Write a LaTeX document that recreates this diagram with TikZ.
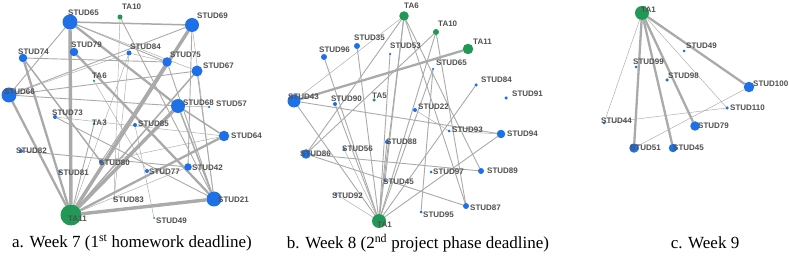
\documentclass[tikz,border=0pt]{standalone}
\usepackage{fontspec}
\setmainfont{Liberation Serif}
\newfontfamily\lblfont{Liberation Sans}
\usetikzlibrary{backgrounds}
\definecolor{nblue}{RGB}{30,112,230}
\definecolor{ngreen}{RGB}{34,152,86}
\definecolor{egray}{RGB}{170,170,170}
\definecolor{lgray}{RGB}{80,80,80}
\tikzset{
  vtx/.style={circle,inner sep=0pt,outer sep=0pt,draw=none},
  lbl/.style={anchor=west,inner sep=0pt,font=\lblfont\bfseries\fontsize{8}{9}\selectfont,text=lgray},
  ea/.style={draw=egray,line width=0.45pt},
  eb/.style={draw=egray,line width=0.9pt},
  ec/.style={draw=egray,line width=1.5pt},
  ed/.style={draw=egray,line width=2.3pt},
  ee/.style={draw=egray,line width=3.4pt},
  captxt/.style={font=\fontsize{17}{20}\selectfont,inner sep=0pt}
}
\newcommand\gv[8]{%
  \node[vtx,fill=#5,minimum size=#4pt] (#1) at (#2,#3) {};
  \node[lbl] (#1-l) at ([shift={(#6,#7)}]#1.center) {#8};}
\begin{document}
\begin{tikzpicture}[x=1pt,y=-1pt]
\useasboundingbox (0,0) rectangle (789,256);
% ---------------- panel a ----------------
\gv{s65}{70}{22}{15}{nblue}{-2}{-9}{STUD65}
\gv{ta10}{120}{17}{5}{ngreen}{2}{-10}{TA10}
\gv{s69}{192}{25}{14}{nblue}{5}{-9}{STUD69}
\gv{s79}{74}{52}{8.5}{nblue}{-3}{-7}{STUD79}
\gv{s84}{129}{53}{5}{nblue}{1}{-6}{STUD84}
\gv{s74}{23}{58}{8.5}{nblue}{-5}{-6}{STUD74}
\gv{s75}{167}{62}{9.5}{nblue}{3}{-7}{STUD75}
\gv{s67}{197}{71}{11}{nblue}{6}{-5}{STUD67}
\gv{ta6}{94}{81}{2.5}{ngreen}{-2}{-5}{TA6}
\gv{s66}{9}{95}{15}{nblue}{-5}{-3}{STUD66}
\gv{s68}{178}{106}{14}{nblue}{5}{-3}{STUD68}
\gv{s57}{209}{107}{2.5}{nblue}{7}{-3}{STUD57}
\gv{s73}{55}{117}{4}{nblue}{-3}{-4}{STUD73}
\gv{ta3}{94}{124}{3}{ngreen}{-2}{-1}{TA3}
\gv{s85}{135}{125}{4}{nblue}{3}{-1}{STUD85}
\gv{s64}{224}{136}{10.5}{nblue}{7}{0}{STUD64}
\gv{s82}{21}{151}{4}{nblue}{-5}{0}{STUD82}
\gv{s80}{101}{162}{4}{nblue}{-2}{1}{STUD80}
\gv{s42}{188}{167}{7.5}{nblue}{4}{1}{STUD42}
\gv{s77}{147}{171}{4}{nblue}{2}{1}{STUD77}
\gv{s81}{60}{172}{3}{nblue}{-2}{1}{STUD81}
\gv{s21}{214}{199}{15}{nblue}{4}{1}{STUD21}
\gv{s83}{114}{199}{2}{nblue}{-1}{1}{STUD83}
\gv{ta11}{71}{215}{21}{ngreen}{-3}{4}{TA11}
\gv{s49}{154}{218}{2}{nblue}{2}{3}{STUD49}
% ---------------- panel b ----------------
\gv{tb6}{404}{16}{9.5}{ngreen}{0}{-10}{TA6}
\gv{tb10}{436}{32}{6}{ngreen}{2}{-8}{TA10}
\gv{tb11}{468}{49}{10.5}{ngreen}{5}{-7}{TA11}
\gv{b35}{357}{46}{6}{nblue}{-3}{-8}{STUD35}
\gv{b96}{324}{57}{6}{nblue}{-5}{-7}{STUD96}
\gv{b53}{390}{54}{2.5}{nblue}{0}{-8}{STUD53}
\gv{b65}{433}{69}{2.5}{nblue}{3}{-6}{STUD65}
\gv{b84}{476}{85}{3.5}{nblue}{5}{-5}{STUD84}
\gv{b91}{506}{98}{3.5}{nblue}{6}{-4}{STUD91}
\gv{b43}{294}{101}{13}{nblue}{-6}{-4}{STUD43}
\gv{b90}{335}{104}{4}{nblue}{-4}{-5}{STUD90}
\gv{ta5}{374}{100}{3.5}{ngreen}{-2}{-4}{TA5}
\gv{b22}{415}{110}{4}{nblue}{3}{-3}{STUD22}
\gv{b93}{449}{131}{3}{nblue}{3}{-1}{STUD93}
\gv{b94}{501}{134}{8.5}{nblue}{6}{0}{STUD94}
\gv{b88}{387}{142}{4}{nblue}{-1}{0}{STUD88}
\gv{b86}{306}{154}{9.5}{nblue}{-6}{0}{STUD86}
\gv{b56}{344}{149}{3}{nblue}{-2}{0}{STUD56}
\gv{b97}{431}{172}{3}{nblue}{2}{0}{STUD97}
\gv{b89}{481}{171}{6}{nblue}{6}{0}{STUD89}
\gv{b45}{385}{181}{3}{nblue}{-2}{1}{STUD45}
\gv{b92}{336}{194}{3}{nblue}{-4}{2}{STUD92}
\gv{b87}{466}{206}{6}{nblue}{4}{2}{STUD87}
\gv{b95}{421}{212}{3}{nblue}{2}{3}{STUD95}
\gv{tb1}{379}{221}{14}{ngreen}{-2}{4}{TA1}
% ---------------- panel c ----------------
\gv{tc1}{642}{13}{14}{ngreen}{-1}{-3}{TA1}
\gv{c49}{684}{51}{3}{nblue}{2}{-5}{STUD49}
\gv{c99}{636}{67}{3}{nblue}{-3}{-5}{STUD99}
\gv{c98}{667}{80}{3.5}{nblue}{1}{-4}{STUD98}
\gv{c100}{749}{87}{10.5}{nblue}{4}{-3}{STUD100}
\gv{c110}{727}{108}{3.5}{nblue}{3}{0}{STUD110}
\gv{c44}{604}{123}{3}{nblue}{-3}{-2}{STUD44}
\gv{c79}{695}{126}{9.5}{nblue}{3}{0}{STUD79}
\gv{c51}{634}{148}{9.5}{nblue}{-4}{0}{STUD51}
\gv{c45}{673}{148}{8.5}{nblue}{0}{0}{STUD45}
% ---------------- captions ----------------
\node[captxt] (capa) at (132,243) {a. Week 7 (1\textsuperscript{st} homework deadline)};
\node[captxt] (capb) at (418,243) {b. Week 8 (2\textsuperscript{nd} project phase deadline)};
\node[captxt] (capc) at (705,243) {c. Week 9};
% ---------------- edges ----------------
\begin{pgfonlayer}{background}
\fill[white] (0,0) rectangle (789,256);
% panel a
\foreach \a/\b in {ta11/s65,ta11/s69,ta11/s68,ta11/s21}
  \draw[ee] (\a) -- (\b);
\foreach \a/\b in {ta11/s66,ta11/s74,ta11/s75,ta11/s64,s65/s68,s79/s21}
  \draw[ed] (\a) -- (\b);
\foreach \a/\b in {ta11/s67,s65/s69,s74/s80,s68/s21,s68/s64}
  \draw[ec] (\a) -- (\b);
\foreach \a/\b in {s65/s66,s66/s69,s66/s68,s66/s67,s74/s75,s69/s42,s67/s21,s82/s42,s73/s21,s65/s75,ta10/s21,s69/s80,s75/s21,ta11/ta3}
  \draw[eb] (\a) -- (\b);
\foreach \a/\b in {ta10/s83,s65/s67,s66/s84,s84/s83,ta6/s77,ta11/s84,s85/s49,s80/s64,s69/s21,s57/s68,ta11/s42,s84/s75,s73/s64}
  \draw[ea] (\a) -- (\b);
% panel b
\draw[ed] (b43) -- (tb11);
\foreach \a/\b in {tb6/b86,tb6/tb1,tb6/b45,tb6/b89,tb6/b87,tb10/tb1,tb10/b87,b96/tb1,b35/tb1,b53/tb1,b65/b95,b84/tb1,b43/b94,b43/tb1,b86/b89,b86/b87,b94/tb1,b90/tb1,tb10/b86,b65/tb1,b88/tb1}
  \draw[eb] (\a) -- (\b);
\foreach \a/\b in {tb6/b43,b22/b93,b56/tb1,b92/tb1,b93/b94}
  \draw[ea] (\a) -- (\b);
% panel c
\foreach \a/\b in {tc1/c51,tc1/c45,tc1/c79,tc1/c100}
  \draw[ed] (\a) -- (\b);
\foreach \a/\b in {tc1/c44,tc1/c110,c100/c51,c44/c110}
  \draw[ea] (\a) -- (\b);
\end{pgfonlayer}
\end{tikzpicture}
\end{document}
